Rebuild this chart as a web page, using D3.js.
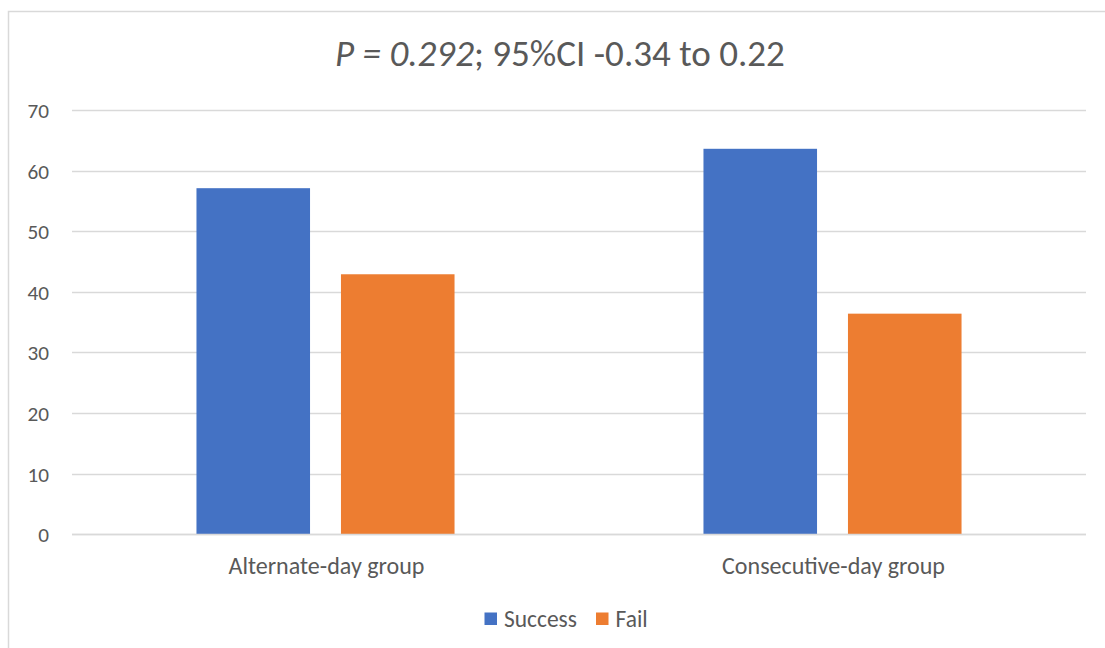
<!DOCTYPE html>
<html>
<head>
<meta charset="utf-8">
<script src="https://cdn.jsdelivr.net/npm/d3@7"></script>
<style>
  html, body { margin: 0; padding: 0; background: #fff; }
  svg { display: block; }
  text { font-family: Carlito, "Open Sans", Lato, "Liberation Sans", sans-serif; fill: #595959; }
</style>
</head>
<body>
<svg id="chart" width="1105" height="648"></svg>
<script>
const categories = ["Alternate-day group", "Consecutive-day group"];
const seriesNames = ["Success", "Fail"];
const successValues = [57.1, 63.6];
const failValues = [42.9, 36.4];
const yTicks = [0, 10, 20, 30, 40, 50, 60, 70];
const colors = ["#4472C4", "#ED7D31"];

const FONT = "Carlito, 'Open Sans', Lato, 'Liberation Sans', sans-serif";
const svg = d3.select("#chart");

// scale a text's font-size so its rendered width matches a target width
function fitSize(node, base, target) {
  const w = node.getComputedTextLength();
  return w > 0 ? base * target / w : base;
}

// chart border
svg.append("rect")
  .attr("x", 8.5).attr("y", 11.5)
  .attr("width", 1120).attr("height", 700)
  .attr("fill", "#fff").attr("stroke", "#d9d9d9").attr("stroke-width", 1.5);

const plot = { left: 72, right: 1086, top: 110, bottom: 534.3 };

const x0 = d3.scaleBand().domain(categories).range([plot.left, plot.right]).paddingInner(0).paddingOuter(0);
const y = d3.scaleLinear().domain([0, 70]).range([plot.bottom, plot.top]);

// gridlines
svg.append("g").selectAll("line").data(yTicks).join("line")
  .attr("x1", plot.left).attr("x2", plot.right)
  .attr("y1", d => Math.round(y(d)) + 0.5).attr("y2", d => Math.round(y(d)) + 0.5)
  .attr("stroke", "#d9d9d9").attr("stroke-width", 1.5);

// y tick labels
const yAxis = d3.axisLeft(y).tickValues(yTicks).tickSize(0).tickPadding(0);
const gy = svg.append("g").attr("transform", `translate(49,0)`).call(yAxis);
gy.select(".domain").remove();
gy.selectAll("text").attr("font-size", 20).style("font-family", FONT).attr("fill", "#595959").attr("dy", "0.35em");
{
  const n = gy.selectAll("text").filter(d => d === 70).node();
  const s = fitSize(n, 20, 21.5);
  gy.selectAll("text").attr("font-size", s);
}

// bars
const groupWidth = x0.bandwidth();
const barW = groupWidth * 0.224;
const gap = groupWidth * 0.061;
const data = categories.map((c, i) => ({ cat: c, vals: [successValues[i], failValues[i]] }));
const x1 = d3.scaleBand().domain(seriesNames).range([0, barW * 2 + gap]).paddingInner(gap / (barW + gap)).paddingOuter(0);

const groups = svg.append("g").selectAll("g").data(data).join("g")
  .attr("transform", d => `translate(${x0(d.cat) + (groupWidth - (barW * 2 + gap)) / 2},0)`);
groups.selectAll("rect").data(d => d.vals.map((v, j) => ({ s: seriesNames[j], v, j }))).join("rect")
  .attr("x", d => x1(d.s))
  .attr("width", x1.bandwidth())
  .attr("y", d => y(d.v))
  .attr("height", d => y(0) - y(d.v))
  .attr("fill", d => colors[d.j]);

// x axis baseline
svg.append("line")
  .attr("x1", plot.left).attr("x2", plot.right)
  .attr("y1", Math.round(y(0)) + 0.5).attr("y2", Math.round(y(0)) + 0.5)
  .attr("stroke", "#d9d9d9").attr("stroke-width", 1.5);

// category labels
const xAxis = d3.axisBottom(x0).tickSize(0).tickPadding(0);
const gx = svg.append("g").attr("transform", `translate(1,566)`).call(xAxis);
gx.select(".domain").remove();
gx.selectAll("text").attr("font-size", 20).style("font-family", FONT).attr("fill", "#595959").attr("dy", "0.35em");
{
  const n = gx.selectAll("text").filter(d => d === categories[0]).node();
  const s = fitSize(n, 20, 196);
  gx.selectAll("text").attr("font-size", s);
}

// title
const title = svg.append("text").attr("x", 560).attr("y", 66).attr("text-anchor", "middle").attr("font-size", 30);
title.append("tspan").attr("font-style", "italic").text("P = 0.292");
title.append("tspan").text("; 95%CI -0.34 to 0.22");
title.attr("font-size", fitSize(title.node(), 30, 450));

// legend
const legend = svg.append("g");
const legItems = [{ name: "Success", x: 484.5 }, { name: "Fail", x: 596 }];
let legSize = 20;
legItems.forEach((it, i) => {
  legend.append("rect").attr("x", it.x).attr("y", 612.5).attr("width", 12.5).attr("height", 12.5).attr("fill", colors[i]);
  const t = legend.append("text").attr("x", it.x + 19.5).attr("y", 619).attr("dy", "0.35em").attr("font-size", 20).text(it.name);
  if (i === 0) legSize = fitSize(t.node(), 20, 73);
});
legend.selectAll("text").attr("font-size", legSize);
</script>
</body>
</html>
